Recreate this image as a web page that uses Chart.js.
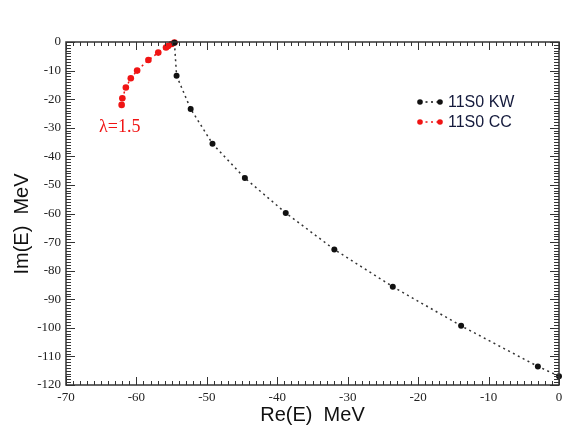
<!DOCTYPE html>
<html>
<head>
<meta charset="utf-8">
<script src="https://cdn.jsdelivr.net/npm/chart.js@4"></script>
<style>
  html, body { margin: 0; padding: 0; background: #fff; }
  #wrap { width: 563px; height: 428px; position: relative; }
</style>
</head>
<body>
<div id="wrap"><canvas id="c" width="563" height="428"></canvas></div>
<script>
// ---- data ----
const kwRe = [-54.6, -54.3, -52.3, -49.2, -44.6, -38.8, -31.9, -23.6, -13.9, -3.0, 0.0];
const kwIm = [-0.3, -11.8, -23.4, -35.6, -47.6, -59.8, -72.6, -85.6, -99.3, -113.5, -116.9];
const ccRe = [-54.6, -55.0, -55.5, -55.8, -56.9, -58.3, -59.9, -60.8, -61.5, -62.0, -62.1];
const ccIm = [-0.2, -0.7, -1.4, -1.9, -3.7, -6.3, -10.0, -12.7, -15.9, -19.7, -22.0];
const seriesLabels = ['11S0 KW', '11S0 CC'];
const xTitle = 'Re(E)  MeV';
const yTitle = 'Im(E)  MeV';
const annotationText = 'λ=1.5';
const annotationAt = [-65.3, -29.5];
const xRange = [-70, 0];
const yRange = [-120, 0];

const BLACK = '#111111';
const RED = '#f01414';

const toPts = (xs, ys) => xs.map((x, i) => ({ x: x, y: ys[i] }));

const decor = {
  id: 'decor',
  afterDraw(chart) {
    const ctx = chart.ctx;
    const a = chart.chartArea;
    const xs = chart.scales.x, ys = chart.scales.y;
    ctx.save();
    // minor / major ticks, inward on all four sides
    ctx.strokeStyle = '#333';
    ctx.lineWidth = 1;
    ctx.beginPath();
    for (let v = xRange[0]; v <= xRange[1]; v++) {
      const px = Math.round(xs.getPixelForValue(v)) + 0.5;
      const len = (v % 10 === 0) ? 8 : 4;
      ctx.moveTo(px, a.bottom); ctx.lineTo(px, a.bottom - len);
      ctx.moveTo(px, a.top); ctx.lineTo(px, a.top + len);
    }
    for (let v = yRange[0]; v <= yRange[1]; v++) {
      const py = Math.round(ys.getPixelForValue(v)) + 0.5;
      const len = (v % 10 === 0) ? 9 : 5;
      ctx.moveTo(a.left, py); ctx.lineTo(a.left + len, py);
      ctx.moveTo(a.right, py); ctx.lineTo(a.right - len, py);
    }
    ctx.stroke();
    // frame
    ctx.lineWidth = 1.5;
    ctx.strokeStyle = '#333';
    ctx.strokeRect(a.left, a.top, a.right - a.left, a.bottom - a.top);

    // axis titles
    ctx.fillStyle = '#111';
    ctx.font = '20px "Liberation Sans", Arial, sans-serif';
    ctx.textAlign = 'center';
    ctx.textBaseline = 'alphabetic';
    ctx.fillText(xTitle, (a.left + a.right) / 2, 421);
    ctx.save();
    ctx.translate(28, 224);
    ctx.rotate(-Math.PI / 2);
    ctx.fillText(yTitle, 0, 0);
    ctx.restore();

    // annotation
    ctx.fillStyle = RED;
    ctx.font = '18px "Liberation Serif", "Times New Roman", serif';
    ctx.textAlign = 'left';
    ctx.fillText(annotationText, xs.getPixelForValue(annotationAt[0]), ys.getPixelForValue(annotationAt[1]) + 6);

    // legend
    const colors = [BLACK, RED];
    const lx = 420, ly0 = 102, dy = 20;
    chart.data.datasets.forEach((ds, i) => {
      const y = ly0 + i * dy;
      ctx.strokeStyle = colors[i];
      ctx.lineWidth = 1.5;
      ctx.setLineDash([2, 3.5]);
      ctx.beginPath(); ctx.moveTo(lx, y); ctx.lineTo(lx + 20, y); ctx.stroke();
      ctx.setLineDash([]);
      ctx.fillStyle = colors[i];
      [lx, lx + 20].forEach(px => { ctx.beginPath(); ctx.arc(px, y, 2.8, 0, Math.PI * 2); ctx.fill(); });
      ctx.fillStyle = '#141a3c';
      ctx.font = '16px "Liberation Sans", Arial, sans-serif';
      ctx.textBaseline = 'middle';
      ctx.fillText(ds.label, lx + 28, y + 1);
    });
    ctx.restore();
  }
};

new Chart(document.getElementById('c'), {
  type: 'scatter',
  data: {
    datasets: [
      {
        label: seriesLabels[0],
        data: toPts(kwRe, kwIm),
        showLine: true,
        borderColor: '#333',
        borderWidth: 1.5,
        borderDash: [2, 3.5],
        pointRadius: 3,
        pointBackgroundColor: BLACK,
        pointBorderColor: BLACK,
        pointBorderWidth: 0,
        clip: false
      },
      {
        label: seriesLabels[1],
        data: toPts(ccRe, ccIm),
        showLine: true,
        borderColor: RED,
        borderWidth: 1.5,
        borderDash: [2, 3.5],
        pointRadius: 3.3,
        pointBackgroundColor: RED,
        pointBorderColor: RED,
        pointBorderWidth: 0,
        clip: false
      }
    ]
  },
  options: {
    responsive: false,
    animation: false,
    layout: { padding: { top: 42, right: 3, left: 0, bottom: 0 } },
    plugins: { legend: { display: false }, tooltip: { enabled: false } },
    scales: {
      x: {
        type: 'linear',
        min: xRange[0], max: xRange[1],
        grid: { display: false, drawTicks: false },
        border: { display: false },
        ticks: {
          stepSize: 10,
          padding: 5,
          color: '#222',
          font: { family: '"Liberation Serif", "Times New Roman", serif', size: 13 },
          maxRotation: 0
        },
        afterFit(s) { s.height = 43; s.paddingLeft = 0; s.paddingRight = 0; }
      },
      y: {
        type: 'linear',
        min: yRange[0], max: yRange[1],
        grid: { display: false, drawTicks: false },
        border: { display: false },
        ticks: {
          stepSize: 10,
          padding: 5,
          color: '#222',
          font: { family: '"Liberation Serif", "Times New Roman", serif', size: 13 }
        },
        afterFit(s) { s.width = 66; s.paddingTop = 0; s.paddingBottom = 0; }
      }
    }
  },
  plugins: [decor]
});
</script>
</body>
</html>
